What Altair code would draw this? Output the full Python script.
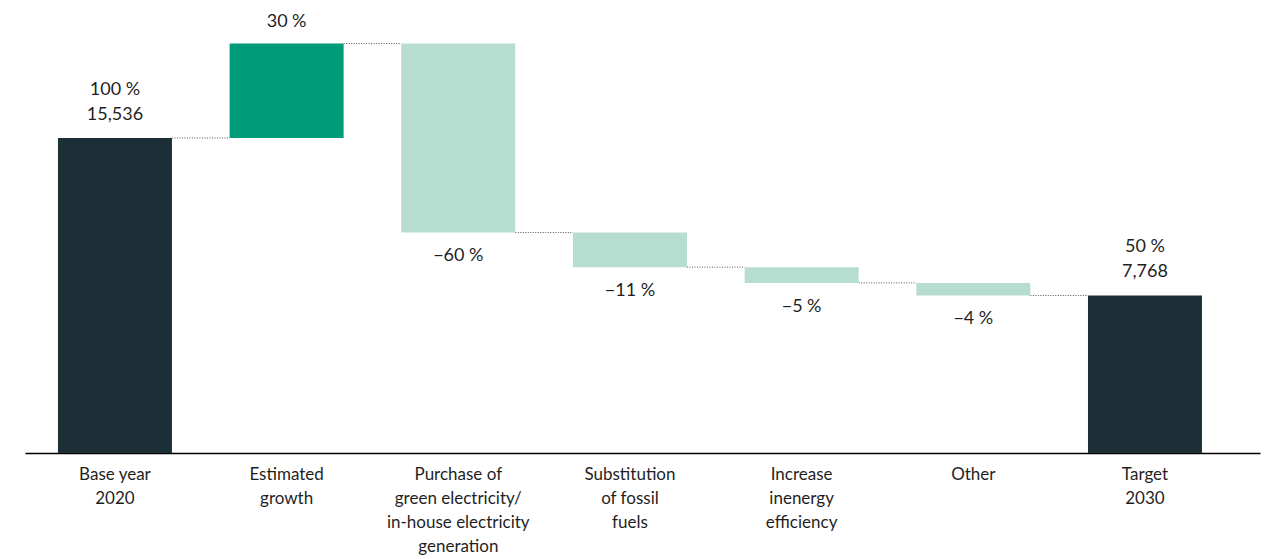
import altair as alt
import pandas as pd

# Waterfall steps ("|" marks a line break in the category labels)
steps = [
    "Base year|2020",
    "Estimated|growth",
    "Purchase of|green electricity/|in-house electricity|generation",
    "Substitution|of fossil|fuels",
    "Increase|inenergy|efficiency",
    "Other",
    "Target|2030",
]
kinds = ["total", "increase", "decrease", "decrease", "decrease", "decrease", "total"]
pct = [100, 30, -60, -11, -5, -4, 50]
absolute = [15536, None, None, None, None, None, 7768]

HALF = 0.332  # half bar width in step units

# Running start/end of each bar
rows = []
level = 0
for i, (s, k, p, a) in enumerate(zip(steps, kinds, pct, absolute)):
    if k == "total":
        start, end = 0, p
    else:
        start, end = level, level + p
    level = end
    pct_txt = f"{p}\u202f%".replace("-", "\u2212")
    rows.append(dict(idx=i, x0=i - HALF, x1=i + HALF, kind=k, start=start, end=end,
                     step=s, pct_txt=pct_txt,
                     abs_txt="" if a is None else f"{a:,}"))
df = pd.DataFrame(rows)

# Dotted connectors from each bar's end to the next bar
conn = pd.DataFrame({
    "x0": [i + HALF for i in range(len(steps) - 1)],
    "x1": [i + 1 - HALF for i in range(len(steps) - 1)],
    "level": [r["end"] for r in rows[:-1]],
})

x_scale = alt.Scale(domain=[-0.524, 6.670], nice=False, zero=False)
y_scale = alt.Scale(domain=[0, 143.8], nice=False, zero=True)
x_axis = alt.Axis(labels=False, ticks=False, grid=False, title=None,
                  domainColor="#000000", domainWidth=1.6)

FONT = "Lato"
INK = "#1f1f1f"
SIZE = 18


def xq(field):
    return alt.X(f"{field}:Q", scale=x_scale, axis=x_axis)


def yq(field):
    return alt.Y(f"{field}:Q", scale=y_scale, axis=None)


bars = alt.Chart(df).mark_bar().encode(
    x=xq("x0"),
    x2="x1:Q",
    y=yq("start"),
    y2="end:Q",
    color=alt.Color("kind:N", legend=None,
                    scale=alt.Scale(domain=["total", "increase", "decrease"],
                                    range=["#1c2f37", "#009b78", "#b7ddd0"])),
)

connectors = alt.Chart(conn).mark_rule(color="#555555", strokeDash=[1, 1.5], strokeWidth=1).encode(
    x=xq("x0"),
    x2="x1:Q",
    y=yq("level"),
)


def value_text(kind, field, dy):
    return alt.Chart(df).transform_filter(f"datum.kind == '{kind}'").mark_text(
        font=FONT, fontSize=SIZE, color=INK, baseline="middle", dy=dy,
    ).encode(
        x=xq("idx"),
        y=yq("end"),
        text=f"{field}:N",
    )


total_pct = value_text("total", "pct_txt", -48)
total_abs = value_text("total", "abs_txt", -23)
inc_pct = value_text("increase", "pct_txt", -21)
dec_pct = value_text("decrease", "pct_txt", 24)

# Category labels under the axis line
cat_labels = alt.Chart(df).mark_text(
    font=FONT, fontSize=17, color=INK, baseline="top", lineBreak="|",
    lineHeight=24, dy=14,
).encode(
    x=xq("idx"),
    y=alt.value(453),
    text="step:N",
)

chart = alt.layer(connectors, bars, total_pct, total_abs, inc_pct, dec_pct, cat_labels).properties(
    width=1235, height=453,
    background="white",
    autosize=alt.AutoSizeParams(type="none"),
    padding=alt.Padding(left=25, top=0, right=11, bottom=106),
).configure_view(stroke=None)

chart.save("out.html", embed_options={"renderer": "svg", "actions": False})
